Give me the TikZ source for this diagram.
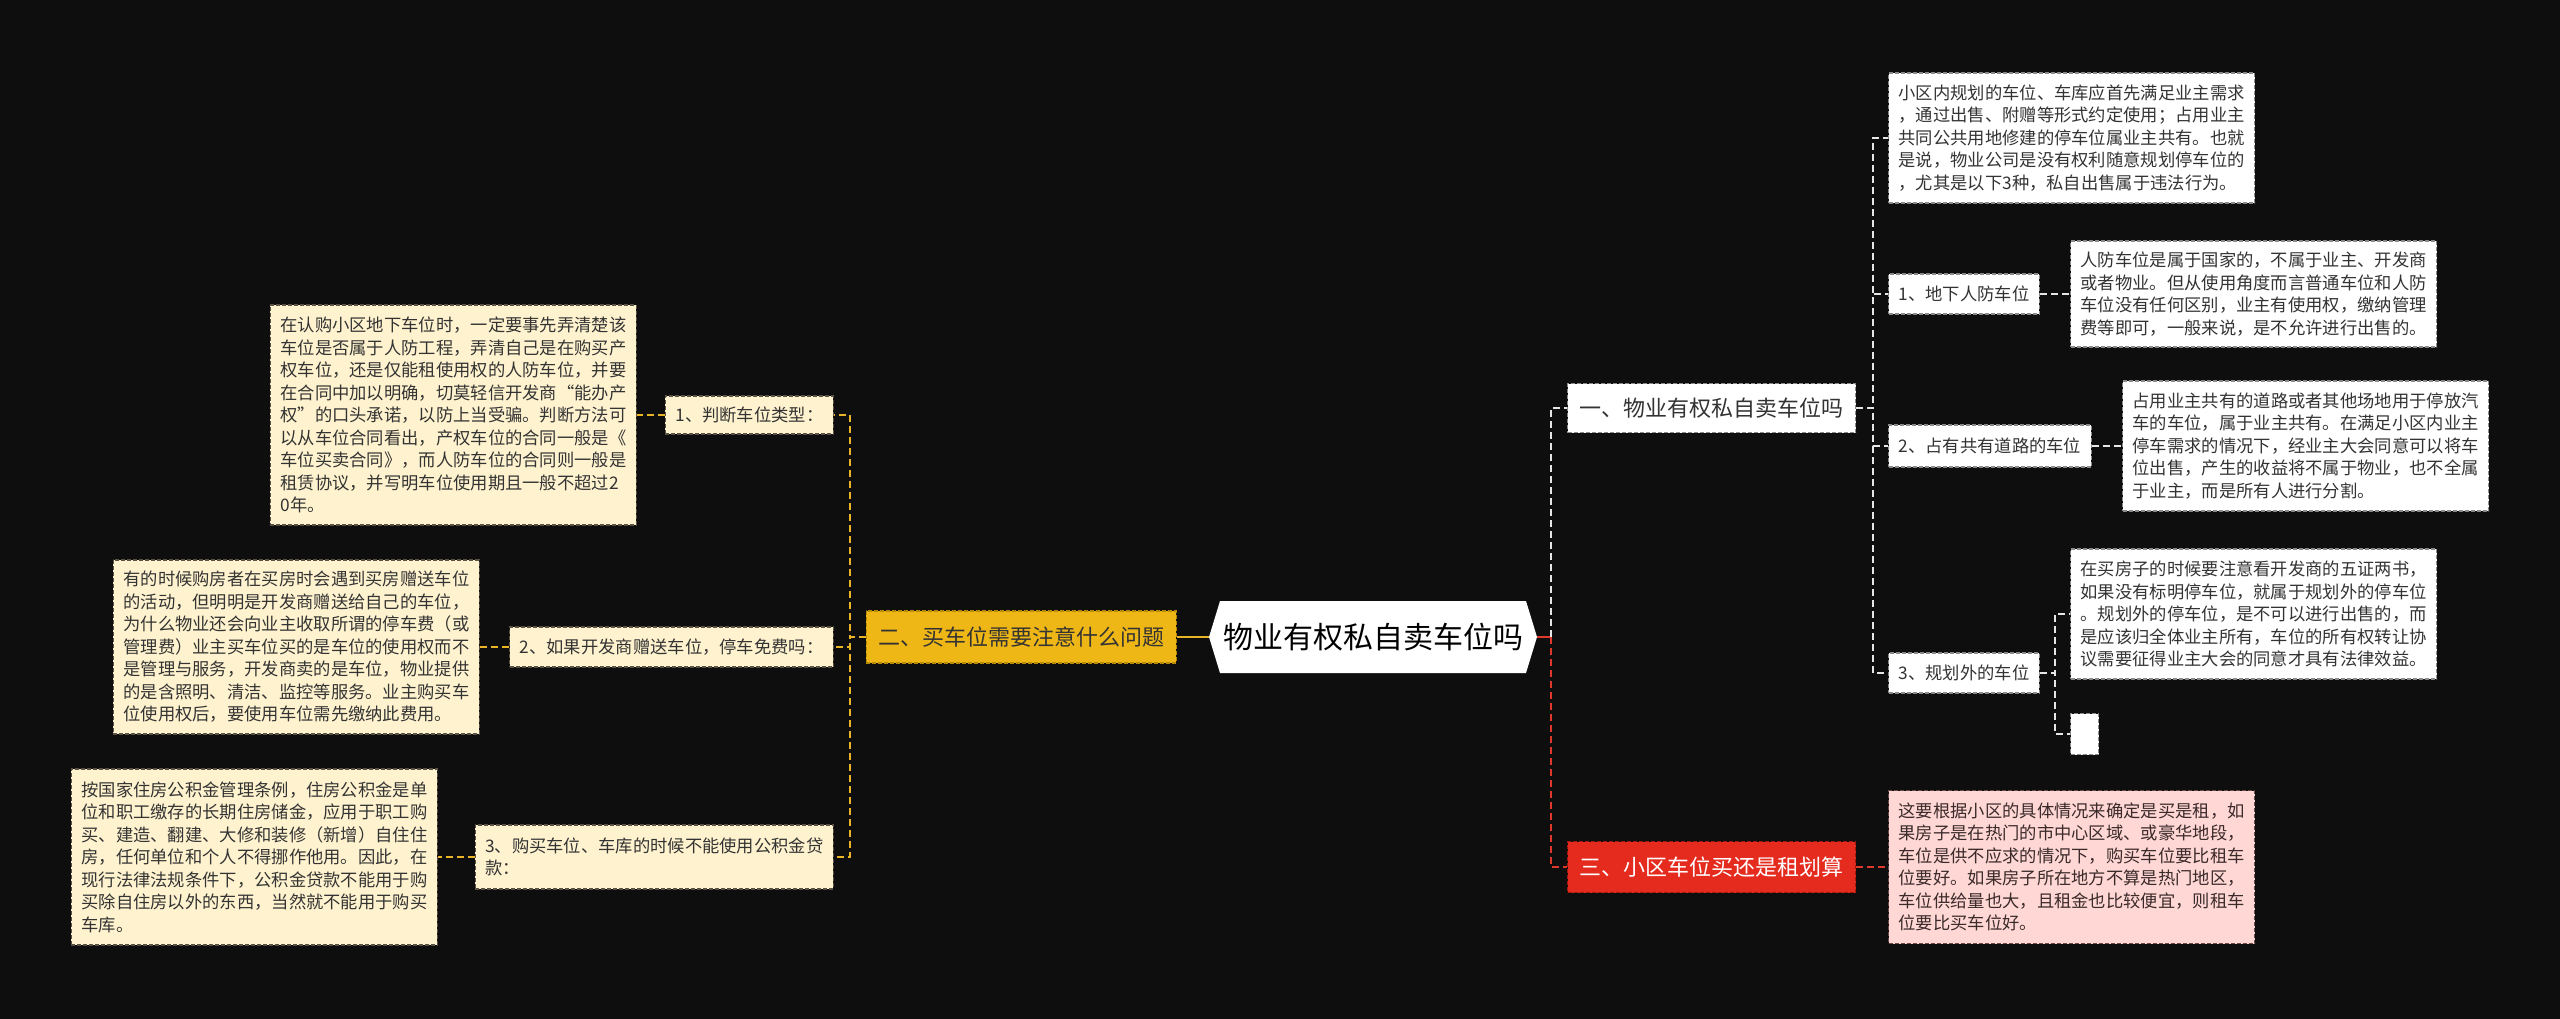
\documentclass[tikz,border=0pt]{standalone}
\usepackage{fontspec}
\setmainfont{Noto Sans CJK SC}
\usetikzlibrary{calc}
\definecolor{bgc}{HTML}{0E0E0E}
\definecolor{cream}{HTML}{FFF3CF}
\definecolor{creamedge}{HTML}{5A5245}
\definecolor{txt}{HTML}{333333}
\definecolor{wedge}{HTML}{8A8A8A}
\definecolor{ybranch}{HTML}{EFB716}
\definecolor{yedge}{HTML}{B88A00}
\definecolor{yline}{HTML}{E9B526}
\definecolor{rbranch}{HTML}{E52A1E}
\definecolor{redge}{HTML}{A01810}
\definecolor{rline}{HTML}{E0392B}
\definecolor{pinkc}{HTML}{FFD7D4}
\definecolor{pinkedge}{HTML}{6A4A48}
\definecolor{ptxt}{HTML}{3A2A2A}
\definecolor{wline}{HTML}{E6E6E6}
\tikzset{
  box/.style={rectangle, inner xsep=10pt, inner ysep=0pt, align=left,
    font=\fontsize{17.3}{22.5}\selectfont, text=txt,
    dash pattern=on 4pt off 2pt, line width=1.2pt},
  cbox/.style={box, fill=cream, draw=creamedge},
  wbox/.style={box, fill=white, draw=wedge},
  pbox/.style={box, fill=pinkc, draw=pinkedge, text=ptxt},
  bigbox/.style={rectangle, inner xsep=12pt, inner ysep=0pt,
    font=\fontsize{22}{26}\selectfont, dash pattern=on 4pt off 2pt, line width=1.2pt},
  yconn/.style={draw=yline, line width=2pt, dash pattern=on 7pt off 4pt},
  wconn/.style={draw=wline, line width=2pt, dash pattern=on 7pt off 4pt},
  rconn/.style={draw=rline, line width=2pt, dash pattern=on 7pt off 4pt},
}
\begin{document}
\begin{tikzpicture}[x=1pt,y=-1pt]
\fill[bgc] (0,0) rectangle (2560,1019);
\useasboundingbox (0,0) rectangle (2560,1019);

% center
\fill[white] (1209,637) -- (1220,601) -- (1526,601) -- (1537,637) -- (1526,673) -- (1220,673) -- cycle;
\node[minimum width=328pt, minimum height=72pt, inner sep=0pt, font=\fontsize{30}{34}\selectfont, text=black] (c) at (1373,637) {物业有权私自卖车位吗};

% left branch
\node[bigbox, fill=ybranch, draw=yedge, text=txt, anchor=east, minimum height=52pt] (B2) at (1177,637) {二、买车位需要注意什么问题};

\node[cbox, anchor=east, minimum height=38pt] (L1l) at (834,415) {1、判断车位类型：};
\node[cbox, anchor=east, minimum height=220pt] (L1d) at (637,415) {在认购小区地下车位时，一定要事先弄清楚该\\
车位是否属于人防工程，弄清自己是在购买产\\
权车位，还是仅能租使用权的人防车位，并要\\
在合同中加以明确，切莫轻信开发商“能办产\\
权”的口头承诺，以防上当受骗。判断方法可\\
以从车位合同看出，产权车位的合同一般是《\\
车位买卖合同》，而人防车位的合同则一般是\\
租赁协议，并写明车位使用期且一般不超过2\\
0年。};

\node[cbox, anchor=east, minimum height=40pt] (L2l) at (834,647) {2、如果开发商赠送车位，停车免费吗：};
\node[cbox, anchor=east, minimum height=174pt] (L2d) at (480,647) {有的时候购房者在买房时会遇到买房赠送车位\\
的活动，但明明是开发商赠送给自己的车位，\\
为什么物业还会向业主收取所谓的停车费（或\\
管理费）业主买车位买的是车位的使用权而不\\
是管理与服务，开发商卖的是车位，物业提供\\
的是含照明、清洁、监控等服务。业主购买车\\
位使用权后，要使用车位需先缴纳此费用。};

\node[cbox, anchor=east, minimum height=64pt] (L3l) at (834,857) {3、购买车位、车库的时候不能使用公积金贷\\款：};
\node[cbox, anchor=east, minimum height=176pt] (L3d) at (438,857) {按国家住房公积金管理条例，住房公积金是单\\
位和职工缴存的长期住房储金，应用于职工购\\
买、建造、翻建、大修和装修（新增）自住住\\
房，任何单位和个人不得挪作他用。因此，在\\
现行法律法规条件下，公积金贷款不能用于购\\
买除自住房以外的东西，当然就不能用于购买\\
车库。};

% right branches
\node[bigbox, fill=white, draw=wedge, text=txt, anchor=west, minimum height=49pt] (B1) at (1567,408) {一、物业有权私自卖车位吗};
\node[bigbox, fill=rbranch, draw=redge, text=white, anchor=west, minimum height=51pt] (B3) at (1567,867) {三、小区车位买还是租划算};

\node[wbox, anchor=west, minimum height=130pt] (R0) at (1888,138) {小区内规划的车位、车库应首先满足业主需求\\
，通过出售、附赠等形式约定使用；占用业主\\
共同公共用地修建的停车位属业主共有。也就\\
是说，物业公司是没有权利随意规划停车位的\\
，尤其是以下3种，私自出售属于违法行为。};

\node[wbox, anchor=west, minimum height=40pt] (R1l) at (1888,294) {1、地下人防车位};
\node[wbox, anchor=west, minimum height=106pt] (R1d) at (2070,294) {人防车位是属于国家的，不属于业主、开发商\\
或者物业。但从使用角度而言普通车位和人防\\
车位没有任何区别，业主有使用权，缴纳管理\\
费等即可，一般来说，是不允许进行出售的。};

\node[wbox, anchor=west, minimum height=42pt] (R2l) at (1888,446) {2、占有共有道路的车位};
\node[wbox, anchor=west, minimum height=130pt] (R2d) at (2122,446) {占用业主共有的道路或者其他场地用于停放汽\\
车的车位，属于业主共有。在满足小区内业主\\
停车需求的情况下，经业主大会同意可以将车\\
位出售，产生的收益将不属于物业，也不全属\\
于业主，而是所有人进行分割。};

\node[wbox, anchor=west, minimum height=40pt] (R3l) at (1888,673) {3、规划外的车位};
\node[wbox, anchor=west, minimum height=130pt] (R3d) at (2070,614) {在买房子的时候要注意看开发商的五证两书，\\
如果没有标明停车位，就属于规划外的停车位\\
。规划外的停车位，是不可以进行出售的，而\\
是应该归全体业主所有，车位的所有权转让协\\
议需要征得业主大会的同意才具有法律效益。};
\node[wbox, anchor=west, minimum width=28pt, minimum height=41pt, inner xsep=0pt] (R3e) at (2070,734) {};

\node[pbox, anchor=west, minimum height=153pt] (B3d) at (1888,867) {这要根据小区的具体情况来确定是买是租，如\\
果房子是在热门的市中心区域、或豪华地段，\\
车位是供不应求的情况下，购买车位要比租车\\
位要好。如果房子所在地方不算是热门地区，\\
车位供给量也大，且租金也比较便宜，则租车\\
位要比买车位好。};

% connectors left
\draw[draw=yline, line width=2pt] (c.west) -- (B2.east);
\draw[yconn] (B2.west) -- ++(-16,0) |- (L1l.east);
\draw[yconn] (B2.west) -- ++(-16,0) |- (L2l.east);
\draw[yconn] (B2.west) -- ++(-16,0) |- (L3l.east);
\draw[yconn] (L1l.west) -- (L1d.east);
\draw[yconn] (L2l.west) -- (L2d.east);
\draw[yconn] (L3l.west) -- (L3d.east);

% connectors right
\draw[draw=rline, line width=2pt] (c.east) -- ++(14,0) coordinate (rs);
\draw[wconn] (rs) |- (B1.west);
\draw[rconn] (rs) |- (B3.west);
\draw[wconn] (B1.east) -- ++(17,0) |- (R0.west);
\draw[wconn] (B1.east) -- ++(17,0) |- (R1l.west);
\draw[wconn] (B1.east) -- ++(17,0) |- (R2l.west);
\draw[wconn] (B1.east) -- ++(17,0) |- (R3l.west);
\draw[wconn] (R1l.east) -- (R1d.west);
\draw[wconn] (R2l.east) -- (R2d.west);
\draw[wconn] (R3l.east) -- ++(15,0) |- (R3d.west);
\draw[wconn] (R3l.east) -- ++(15,0) |- (R3e.west);
\draw[rconn] (B3.east) -- (B3d.west);
\end{tikzpicture}
\end{document}
